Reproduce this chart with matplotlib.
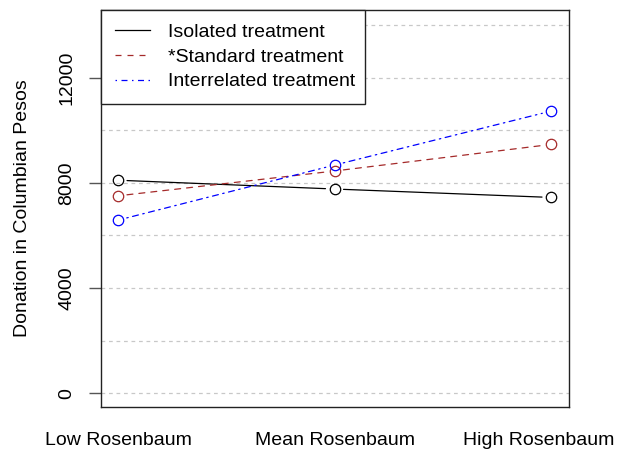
import matplotlib
matplotlib.use("Agg")
import matplotlib.pyplot as plt
from matplotlib.lines import Line2D

plt.rcParams['font.family'] = ['Liberation Sans', 'DejaVu Sans']

categories = ["Low Rosenbaum", "Mean Rosenbaum", "High Rosenbaum"]
isolated = [8100, 7765, 7445]
standard = [7506, 8450, 9460]
interrelated = [6582, 8675, 10726]
series_names = ["Isolated treatment", "*Standard treatment", "Interrelated treatment"]
yticks = [0, 4000, 8000, 12000]
grid_vals = [0, 2000, 4000, 6000, 8000, 10000, 12000, 14000]

colors = ["black", "#A52A2A", "#0000FF"]
styles = ["-", (0, (4.8, 4.8)), (0, (1.2, 3.6, 4.8, 3.6))]
series = [isolated, standard, interrelated]

FS = 14

fig = plt.figure(figsize=(6.17, 4.54), dpi=100)
ax = fig.add_axes([101/617, 1-407/454, (569-101)/617, (407-10)/454])

xs = list(range(1, len(categories) + 1))
ax.set_xlim(0.9215, 3.083)
ax.set_ylim(-521, 14570)

for g in grid_vals:
    ax.axhline(g, color="#c8c8c8", lw=0.9, ls=(0, (3, 3)), zorder=0)

for vals, c, ls in zip(series, colors, styles):
    for i in range(len(xs) - 1):
        ax.annotate("", xy=(xs[i+1], vals[i+1]), xytext=(xs[i], vals[i]),
                    arrowprops=dict(arrowstyle="-", color=c, lw=0.9, linestyle=ls,
                                    shrinkA=6.5, shrinkB=6.5))
    ax.plot(xs, vals, linestyle="none", marker="o", markersize=7.5,
            markerfacecolor="none", markeredgecolor=c, markeredgewidth=0.9, zorder=3)

ax.set_yticks(yticks)
ax.set_yticklabels([str(v) for v in yticks], rotation=90, va="center", fontsize=FS)
ax.tick_params(axis="y", length=8.5, width=1, color="#555555", pad=10)
ax.set_xticks([])
label_pos = [1, 2, 2.945]
for p, lab in zip(label_pos, categories):
    ax.text(p, -0.085, lab, transform=ax.get_xaxis_transform(), ha="center", va="center",
            fontsize=FS, clip_on=False)

ax.set_ylabel("Donation in Columbian Pesos", fontsize=FS)
ax.yaxis.set_label_coords(-0.168, 0.5)
ax.yaxis.label.set_va("center")

for s in ax.spines.values():
    s.set_linewidth(1.0)
    s.set_color("#222222")

handles = [Line2D([], [], color=c, ls=ls, lw=0.9) for c, ls in zip(colors, styles)]
leg = ax.legend(handles, series_names, loc="upper left", bbox_to_anchor=(0, 1, (365-101)/468, 0),
                mode="expand", borderaxespad=0, fancybox=False,
                framealpha=1, edgecolor="#222222", fontsize=FS, handlelength=1.8,
                handletextpad=0.95, borderpad=0.7, labelspacing=0.36)
leg.get_frame().set_linewidth(1.0)

fig.savefig("out.png", dpi=100)
